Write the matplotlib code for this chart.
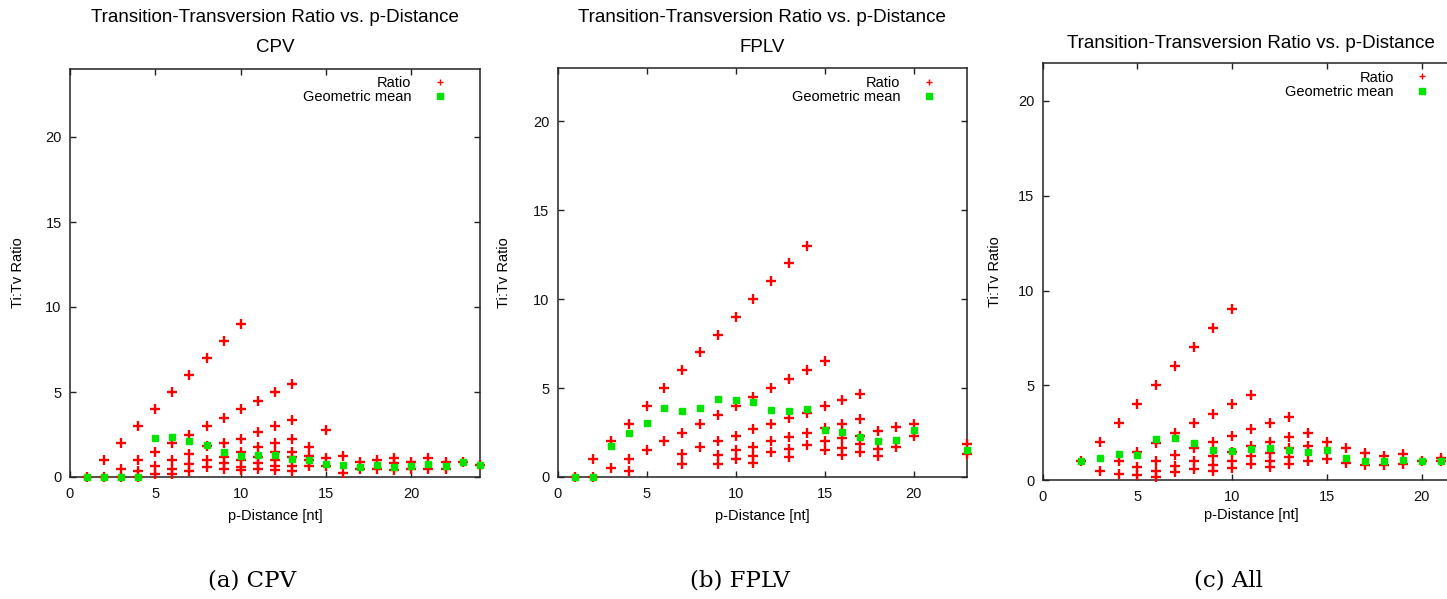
import matplotlib
matplotlib.use("Agg")
import matplotlib.pyplot as plt
from matplotlib.lines import Line2D

# ---------------- data ----------------
# CPV panel: p-distance and the Ti:Tv ratios observed at that distance
cpv_dist = list(range(1, 25))
cpv_ratios = [
    [0.0],
    [1.0, 0.0],
    [2.0, 0.5, 0.0],
    [3.0, 1.0, 0.33, 0.0],
    [4.0, 1.5, 0.67, 0.2],
    [5.0, 2.0, 1.0, 0.5, 0.2],
    [6.0, 2.5, 1.33, 0.75, 0.33],
    [7.0, 3.0, 1.8, 1.0, 0.6],
    [8.0, 3.5, 2.0, 1.2, 0.8, 0.45],
    [9.0, 4.0, 2.25, 1.5, 1.0, 0.6, 0.4],
    [4.5, 2.67, 1.75, 1.2, 0.8, 0.5],
    [5.0, 3.0, 2.0, 1.5, 1.0, 0.67, 0.4],
    [5.5, 3.33, 2.25, 1.5, 1.2, 0.67, 0.38],
    [1.75, 1.25, 1.0, 0.67],
    [2.75, 1.14, 0.67],
    [1.25, 0.25],
    [0.88, 0.45],
    [1.0, 0.45],
    [1.1, 0.8, 0.4],
    [0.88, 0.5],
    [1.12, 0.5],
    [0.86, 0.5],
    [0.86],
    [0.7],
]
cpv_gmean = [0.0, 0.0, 0.0, 0.0, 2.27, 2.33, 2.12, 1.86, 1.5, 1.24, 1.31, 1.27,
             1.04, 0.98, 0.76, 0.69, 0.57, 0.69, 0.61, 0.63, 0.75, 0.63, 0.86, 0.7]

# FPLV panel
fplv_dist = [1, 2, 3, 4, 5, 6, 7, 8, 9, 10, 11, 12, 13, 14, 15, 16, 17, 18, 19, 20, 23]
fplv_ratios = [
    [0.0],
    [1.0, 0.0],
    [2.0, 0.5],
    [3.0, 1.0, 0.33],
    [4.0, 1.5],
    [5.0, 2.0],
    [6.0, 2.5, 1.27, 0.71],
    [7.0, 3.0, 1.67],
    [8.0, 3.5, 2.0, 1.25, 0.75],
    [9.0, 4.0, 2.29, 1.5, 1.0],
    [10.0, 4.5, 2.67, 1.71, 1.2, 0.78],
    [11.0, 5.0, 3.0, 2.0, 1.4],
    [12.0, 5.5, 3.29, 2.22, 1.57, 1.13],
    [13.0, 6.0, 3.6, 2.45, 1.78],
    [6.5, 4.0, 2.75, 2.0, 1.5],
    [4.33, 3.0, 2.17, 1.63, 1.25],
    [4.67, 3.25, 2.29, 1.83, 1.4],
    [2.6, 1.56, 1.2],
    [2.8, 1.7],
    [3.0, 2.33],
    [1.85, 1.3],
]
fplv_gmean = [0.0, 0.0, 1.74, 2.45, 3.01, 3.9, 3.69, 3.9, 4.4, 4.31, 4.19, 3.75,
              3.69, 3.8, 2.62, 2.51, 2.27, 2.0, 2.06, 2.62, 1.52]

# All panel
all_dist = list(range(2, 22))
all_ratios = [
    [1.0],
    [2.0, 0.5],
    [3.0, 1.0, 0.33],
    [4.0, 1.5, 0.67, 0.25],
    [5.0, 1.93, 1.0, 0.5, 0.17],
    [6.0, 2.5, 1.33, 0.75, 0.4],
    [7.0, 3.0, 1.67, 1.0, 0.6],
    [8.0, 3.5, 2.0, 1.25, 0.8, 0.5],
    [9.0, 4.0, 2.33, 1.5, 1.0, 0.63],
    [4.5, 2.67, 1.8, 1.25, 0.83],
    [3.0, 2.0, 1.4, 1.0, 0.7],
    [3.33, 2.25, 1.7, 1.2, 0.83],
    [2.5, 1.8, 1.0],
    [2.0, 1.13],
    [1.67, 0.9],
    [1.43, 0.8],
    [1.29, 0.77],
    [1.37, 0.83],
    [1.0],
    [1.14, 0.98],
]
all_gmean = [1.0, 1.14, 1.35, 1.3, 2.15, 2.22, 1.93, 1.57, 1.51, 1.62, 1.67, 1.57,
             1.46, 1.57, 1.14, 0.98, 0.98, 1.06, 0.98, 0.98]

main_title = "Transition-Transversion Ratio vs. p-Distance"
subtitles = ["CPV", "FPLV", None]
captions = ["(a) CPV", "(b) FPLV", "(c) All"]
xlabel = "p-Distance [nt]"
ylabel = "Ti:Tv Ratio"
legend_labels = ["Ratio", "Geometric mean"]
ticks = [0, 5, 10, 15, 20]

# ---------------- layout ----------------
W, H = 1447, 599
RED = "#ff0000"
GREEN = "#00e400"
AX_COL = "#222222"
plt.rcParams["font.family"] = ["Liberation Sans", "DejaVu Sans"]

fig = plt.figure(figsize=(W / 100, H / 100), dpi=100)


def fx(x):
    return x / W


def fy(y):
    return 1 - y / H


# (left, top, right, bottom) in pixels, axis limits
panels = [
    dict(rect=(70, 69, 479.7, 477), lim=24, dist=cpv_dist, ratios=cpv_ratios, gmean=cpv_gmean,
         title_y=(17, 47), leg=(440, 76), cap_x=252),
    dict(rect=(557.7, 67.6, 967, 477), lim=23, dist=fplv_dist, ratios=fplv_ratios, gmean=fplv_gmean,
         title_y=(17, 47), leg=(928.7, 76), cap_x=740),
    dict(rect=(1042.7, 63.1, 1459.6, 480), lim=22, dist=all_dist, ratios=all_ratios, gmean=all_gmean,
         title_y=(43, None), leg=(1422.3, 70.5), cap_x=1228),
]

FS = 10.5
TFS = 13.5
for i, p in enumerate(panels):
    l, t, r, b = p["rect"]
    ax = fig.add_axes([fx(l), fy(b), (r - l) / W, (b - t) / H])
    xs = [d for d, rs in zip(p["dist"], p["ratios"]) for _ in rs]
    ys = [v for rs in p["ratios"] for v in rs]
    ax.plot(xs, ys, ls="none", marker="+", color=RED, ms=7, mew=1.7, clip_on=False, zorder=3)
    ax.plot(p["dist"], p["gmean"], ls="none", marker="s", color=GREEN, mec=GREEN, ms=5,
            clip_on=False, zorder=4)
    ax.set_xlim(0, p["lim"])
    ax.set_ylim(0, p["lim"])
    ax.set_xticks(ticks)
    ax.set_yticks(ticks)
    ax.tick_params(direction="in", length=4.5, width=1.0, color=AX_COL, top=True, right=True,
                   labelsize=FS, labelcolor="#111111")
    ax.tick_params(axis="y", pad=6)
    ax.tick_params(axis="x", pad=7)
    for s in ax.spines.values():
        s.set_linewidth(1.1)
        s.set_color(AX_COL)

    # legend
    handles = [Line2D([], [], ls="none", marker="+", color=RED, ms=5, mew=1.0),
               Line2D([], [], ls="none", marker="s", color=GREEN, mec=GREEN, ms=4.8)]
    mx, ty = p["leg"]
    hl = 1.0
    ax.legend(handles, legend_labels, loc="upper right",
              bbox_to_anchor=(fx(mx + hl * FS * 100 / 72 / 2), fy(ty)),
              bbox_transform=fig.transFigure, frameon=False, markerfirst=False,
              fontsize=FS, handlelength=hl, handletextpad=1.45, borderpad=0,
              borderaxespad=0, labelspacing=0.02)

    cx = (l + r) / 2 if i < 2 else 1251
    fig.text(fx(cx), fy(p["title_y"][0]), main_title, ha="center", va="center", fontsize=TFS)
    if subtitles[i]:
        fig.text(fx(cx), fy(p["title_y"][1]), subtitles[i], ha="center", va="center", fontsize=TFS)
    fig.text(fx(cx), fy(b + 39 if i < 2 else b + 35), xlabel, ha="center", va="center", fontsize=FS)
    fig.text(fx(l - (52 if i == 0 else (54 if i == 1 else 48))), fy((t + b) / 2), ylabel,
             rotation=90, ha="center", va="center", fontsize=FS)
    fig.text(fx(p["cap_x"]), fy(581), captions[i], ha="center", va="center",
             fontsize=16.5, family="DejaVu Serif")

fig.savefig("out.png", dpi=100)
